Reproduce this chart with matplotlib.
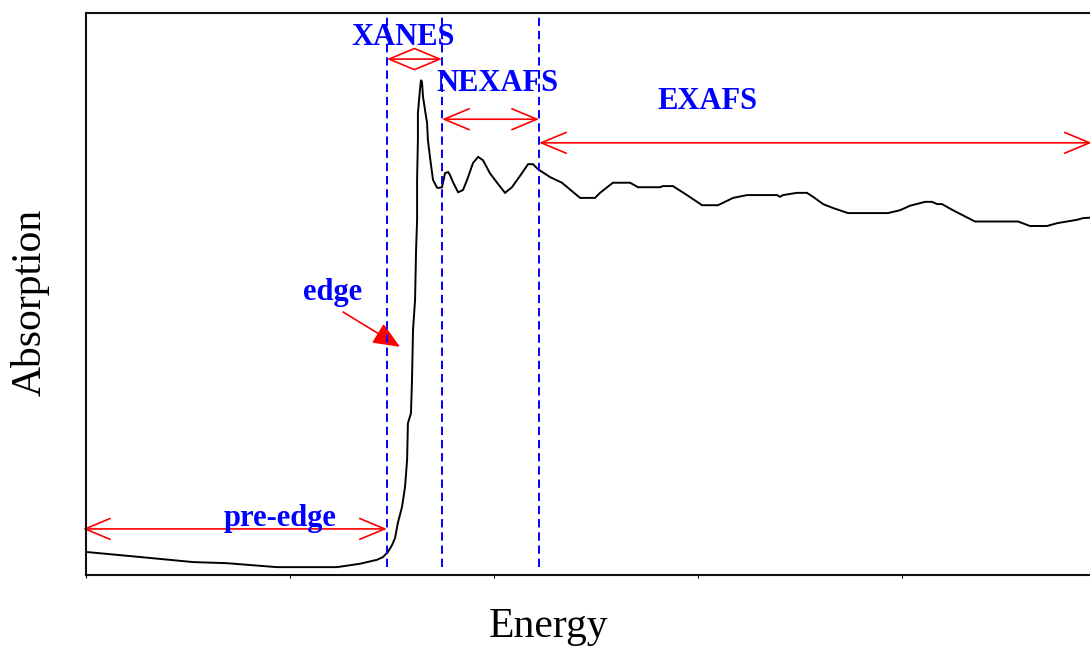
import matplotlib
matplotlib.use("Agg")
import matplotlib.pyplot as plt
from matplotlib.patches import FancyArrowPatch, ArrowStyle

# Absorption spectrum (arbitrary units), energy in axis-tick units
energy = [0.000, 0.265, 0.525, 0.691, 0.936, 1.230, 1.343, 1.426, 1.456, 1.480,
          1.500, 1.515, 1.529, 1.549, 1.564, 1.574, 1.578, 1.593, 1.598, 1.603,
          1.613, 1.618, 1.623, 1.623, 1.627, 1.627, 1.637, 1.642, 1.647, 1.652,
          1.662, 1.672, 1.676, 1.686, 1.701, 1.721, 1.735, 1.745, 1.760, 1.775,
          1.784, 1.799, 1.824, 1.848, 1.868, 1.897, 1.922, 1.946, 1.980, 2.015,
          2.054, 2.088, 2.137, 2.167, 2.191, 2.216, 2.275, 2.333, 2.422, 2.495,
          2.520, 2.583, 2.667, 2.706, 2.814, 2.828, 2.877, 2.946, 3.020, 3.098,
          3.172, 3.240, 3.387, 3.402, 3.417, 3.485, 3.534, 3.564, 3.613, 3.662,
          3.735, 3.931, 3.990, 4.039, 4.113, 4.147, 4.172, 4.196, 4.250, 4.358,
          4.569, 4.627, 4.711, 4.760, 4.809, 4.858, 4.887, 4.971]
absorption = [0.041, 0.032, 0.023, 0.021, 0.014, 0.014, 0.020, 0.027, 0.032, 0.041,
              0.053, 0.066, 0.093, 0.121, 0.157, 0.205, 0.270, 0.288, 0.347, 0.436,
              0.489, 0.578, 0.632, 0.703, 0.774, 0.822, 0.863, 0.881, 0.877, 0.851,
              0.827, 0.804, 0.774, 0.744, 0.703, 0.689, 0.689, 0.690, 0.715, 0.717,
              0.712, 0.699, 0.681, 0.685, 0.703, 0.733, 0.744, 0.738, 0.715, 0.698,
              0.680, 0.690, 0.715, 0.731, 0.731, 0.722, 0.708, 0.698, 0.671, 0.671,
              0.680, 0.698, 0.698, 0.690, 0.690, 0.692, 0.692, 0.676, 0.658, 0.658,
              0.671, 0.676, 0.676, 0.673, 0.676, 0.680, 0.680, 0.673, 0.660, 0.653,
              0.644, 0.644, 0.649, 0.657, 0.664, 0.664, 0.660, 0.660, 0.649, 0.629,
              0.629, 0.621, 0.621, 0.626, 0.629, 0.632, 0.635, 0.637]

# Region boundaries (energy) and region labels
boundaries = [1.475, 1.745, 2.221]
regions = ["pre-edge", "XANES", "NEXAFS", "EXAFS"]
region_spans = [(-0.015, 1.475), (1.475, 1.745), (1.745, 2.221), (2.221, 4.93)]
arrow_levels = [0.082, 0.918, 0.811, 0.769]
label_pos = [(0.951, 0.101), (1.554, 0.956), (2.015, 0.875), (3.044, 0.842)]
edge_label = "edge"
edge_label_pos = (1.211, 0.502)
edge_arrow = ((1.260, 0.468), (1.539, 0.406))

plt.rcParams['lines.scale_dashes'] = False
serif = ['Liberation Serif', 'DejaVu Serif']

fig = plt.figure(figsize=(10.9, 6.47), dpi=100)
ax = fig.add_axes([86 / 1090, 72 / 647, 1020 / 1090, 562 / 647])
ax.set_xlim(0, 5)
ax.set_ylim(0, 1)

ax.plot(energy, absorption, color='black', lw=1.4, solid_joinstyle='miter')

for b in boundaries:
    ax.axvline(b, ymin=0.015, ymax=1.0, color='#0000FF', lw=1.4,
               linestyle=(0, (6, 3.5)))

red = '#FF0000'
blue = '#0000FF'
for (x0, x1), y in zip(region_spans, arrow_levels):
    arr = FancyArrowPatch((x0, y), (x1, y),
                          arrowstyle=ArrowStyle('<->', head_length=18, head_width=7.5),
                          mutation_scale=1, color=red, lw=1.2,
                          clip_on=False, shrinkA=0, shrinkB=0)
    ax.add_patch(arr)

for name, (x, y) in zip(regions, label_pos):
    ax.text(x, y, name, color=blue, fontsize=22, fontweight='bold',
            family=serif, ha='center', va='center')

ax.text(*edge_label_pos, edge_label, color=blue, fontsize=22, fontweight='bold',
        family=serif, ha='center', va='center')
ax.add_patch(FancyArrowPatch(edge_arrow[0], edge_arrow[1],
                             arrowstyle=ArrowStyle('-|>', head_length=16.5, head_width=7),
                             mutation_scale=1, color=red, lw=1.2,
                             shrinkA=0, shrinkB=0))

for side in ['left', 'bottom', 'top']:
    ax.spines[side].set_linewidth(1.5)
    ax.spines[side].set_color('#111111')
ax.spines['right'].set_visible(False)

ax.set_xticks([0, 1, 2, 3, 4])
ax.set_yticks([])
ax.tick_params(axis='x', direction='out', length=2.5, width=0.8,
               labelbottom=False)

fig.text(548 / 1090, 1 - 627 / 647, "Energy", fontsize=30, family=serif,
         ha='center', va='center')
fig.text(30 / 1090, 1 - 302 / 647, "Absorption", fontsize=30, family=serif,
         rotation=90, ha='center', va='center')

fig.savefig("out.png", dpi=100)
